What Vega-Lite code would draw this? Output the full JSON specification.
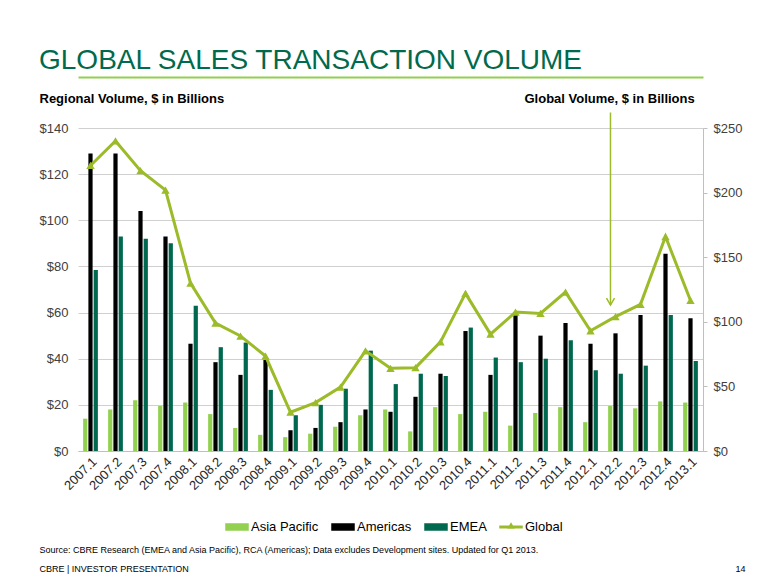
{
  "$schema": "https://vega.github.io/schema/vega-lite/v6.json",
  "width": 625,
  "height": 323,
  "autosize": {"type": "none"},
  "padding": {"left": 78, "top": 128, "right": 77, "bottom": 134},
  "background": "white",
  "config": {
    "font": "Liberation Sans",
    "view": {"stroke": null},
    "axis": {"labelFont": "Liberation Sans", "titleFont": "Liberation Sans"},
    "legend": {"labelFont": "Liberation Sans"}
  },
  "title": {
    "text": "GLOBAL SALES TRANSACTION VOLUME",
    "anchor": "start",
    "frame": "group",
    "orient": "top",
    "dx": -39,
    "offset": 2,
    "fontSize": 28,
    "fontWeight": "normal",
    "color": "#006A4D",
    "font": "Liberation Sans"
  },
  "datasets": {
    "regional": [
      {"quarter": "2007.1", "region": "Asia Pacific", "volume": 14}, {"quarter": "2007.1", "region": "Americas", "volume": 129}, {"quarter": "2007.1", "region": "EMEA", "volume": 78.5},
      {"quarter": "2007.2", "region": "Asia Pacific", "volume": 18}, {"quarter": "2007.2", "region": "Americas", "volume": 129}, {"quarter": "2007.2", "region": "EMEA", "volume": 93},
      {"quarter": "2007.3", "region": "Asia Pacific", "volume": 22}, {"quarter": "2007.3", "region": "Americas", "volume": 104}, {"quarter": "2007.3", "region": "EMEA", "volume": 92},
      {"quarter": "2007.4", "region": "Asia Pacific", "volume": 19.5}, {"quarter": "2007.4", "region": "Americas", "volume": 93}, {"quarter": "2007.4", "region": "EMEA", "volume": 90},
      {"quarter": "2008.1", "region": "Asia Pacific", "volume": 21}, {"quarter": "2008.1", "region": "Americas", "volume": 46.5}, {"quarter": "2008.1", "region": "EMEA", "volume": 63},
      {"quarter": "2008.2", "region": "Asia Pacific", "volume": 16}, {"quarter": "2008.2", "region": "Americas", "volume": 38.5}, {"quarter": "2008.2", "region": "EMEA", "volume": 45},
      {"quarter": "2008.3", "region": "Asia Pacific", "volume": 10}, {"quarter": "2008.3", "region": "Americas", "volume": 33}, {"quarter": "2008.3", "region": "EMEA", "volume": 47},
      {"quarter": "2008.4", "region": "Asia Pacific", "volume": 7}, {"quarter": "2008.4", "region": "Americas", "volume": 39.5}, {"quarter": "2008.4", "region": "EMEA", "volume": 26.5},
      {"quarter": "2009.1", "region": "Asia Pacific", "volume": 6}, {"quarter": "2009.1", "region": "Americas", "volume": 9}, {"quarter": "2009.1", "region": "EMEA", "volume": 15.5},
      {"quarter": "2009.2", "region": "Asia Pacific", "volume": 7.5}, {"quarter": "2009.2", "region": "Americas", "volume": 10}, {"quarter": "2009.2", "region": "EMEA", "volume": 20},
      {"quarter": "2009.3", "region": "Asia Pacific", "volume": 10.5}, {"quarter": "2009.3", "region": "Americas", "volume": 12.5}, {"quarter": "2009.3", "region": "EMEA", "volume": 27},
      {"quarter": "2009.4", "region": "Asia Pacific", "volume": 15.5}, {"quarter": "2009.4", "region": "Americas", "volume": 18}, {"quarter": "2009.4", "region": "EMEA", "volume": 43.5},
      {"quarter": "2010.1", "region": "Asia Pacific", "volume": 18}, {"quarter": "2010.1", "region": "Americas", "volume": 17}, {"quarter": "2010.1", "region": "EMEA", "volume": 29},
      {"quarter": "2010.2", "region": "Asia Pacific", "volume": 8.5}, {"quarter": "2010.2", "region": "Americas", "volume": 23.5}, {"quarter": "2010.2", "region": "EMEA", "volume": 33.5},
      {"quarter": "2010.3", "region": "Asia Pacific", "volume": 19}, {"quarter": "2010.3", "region": "Americas", "volume": 33.5}, {"quarter": "2010.3", "region": "EMEA", "volume": 32.5},
      {"quarter": "2010.4", "region": "Asia Pacific", "volume": 16}, {"quarter": "2010.4", "region": "Americas", "volume": 52}, {"quarter": "2010.4", "region": "EMEA", "volume": 53.5},
      {"quarter": "2011.1", "region": "Asia Pacific", "volume": 17}, {"quarter": "2011.1", "region": "Americas", "volume": 33}, {"quarter": "2011.1", "region": "EMEA", "volume": 40.5},
      {"quarter": "2011.2", "region": "Asia Pacific", "volume": 11}, {"quarter": "2011.2", "region": "Americas", "volume": 59}, {"quarter": "2011.2", "region": "EMEA", "volume": 38.5},
      {"quarter": "2011.3", "region": "Asia Pacific", "volume": 16.5}, {"quarter": "2011.3", "region": "Americas", "volume": 50}, {"quarter": "2011.3", "region": "EMEA", "volume": 40},
      {"quarter": "2011.4", "region": "Asia Pacific", "volume": 19}, {"quarter": "2011.4", "region": "Americas", "volume": 55.5}, {"quarter": "2011.4", "region": "EMEA", "volume": 48},
      {"quarter": "2012.1", "region": "Asia Pacific", "volume": 12.5}, {"quarter": "2012.1", "region": "Americas", "volume": 46.5}, {"quarter": "2012.1", "region": "EMEA", "volume": 35},
      {"quarter": "2012.2", "region": "Asia Pacific", "volume": 19.5}, {"quarter": "2012.2", "region": "Americas", "volume": 51}, {"quarter": "2012.2", "region": "EMEA", "volume": 33.5},
      {"quarter": "2012.3", "region": "Asia Pacific", "volume": 18.5}, {"quarter": "2012.3", "region": "Americas", "volume": 59}, {"quarter": "2012.3", "region": "EMEA", "volume": 37},
      {"quarter": "2012.4", "region": "Asia Pacific", "volume": 21.5}, {"quarter": "2012.4", "region": "Americas", "volume": 85.5}, {"quarter": "2012.4", "region": "EMEA", "volume": 59},
      {"quarter": "2013.1", "region": "Asia Pacific", "volume": 21}, {"quarter": "2013.1", "region": "Americas", "volume": 57.5}, {"quarter": "2013.1", "region": "EMEA", "volume": 39}
    ],
    "global": [
      {"quarter": "2007.1", "global": 221}, {"quarter": "2007.2", "global": 240}, {"quarter": "2007.3", "global": 217}, {"quarter": "2007.4", "global": 202},
      {"quarter": "2008.1", "global": 130}, {"quarter": "2008.2", "global": 99}, {"quarter": "2008.3", "global": 89}, {"quarter": "2008.4", "global": 73.5},
      {"quarter": "2009.1", "global": 30}, {"quarter": "2009.2", "global": 37.5}, {"quarter": "2009.3", "global": 49.5}, {"quarter": "2009.4", "global": 77.5},
      {"quarter": "2010.1", "global": 64}, {"quarter": "2010.2", "global": 64.5}, {"quarter": "2010.3", "global": 84.5}, {"quarter": "2010.4", "global": 122},
      {"quarter": "2011.1", "global": 90.5}, {"quarter": "2011.2", "global": 107.5}, {"quarter": "2011.3", "global": 106.5}, {"quarter": "2011.4", "global": 123},
      {"quarter": "2012.1", "global": 93}, {"quarter": "2012.2", "global": 104}, {"quarter": "2012.3", "global": 113.5}, {"quarter": "2012.4", "global": 166},
      {"quarter": "2013.1", "global": 116.5}
    ]
  },
  "layer": [
    {
      "data": {"name": "regional"},
      "mark": {"type": "bar"},
      "encoding": {
        "x": {
          "field": "quarter", "type": "nominal",
          "scale": {
            "domain": ["2007.1","2007.2","2007.3","2007.4","2008.1","2008.2","2008.3","2008.4","2009.1","2009.2","2009.3","2009.4","2010.1","2010.2","2010.3","2010.4","2011.1","2011.2","2011.3","2011.4","2012.1","2012.2","2012.3","2012.4","2013.1"],
            "paddingInner": 0.41, "paddingOuter": 0.205
          },
          "axis": {
            "labelAngle": -45, "labelFontSize": 13, "labelColor": "#262626", "labelPadding": 4,
            "domain": true, "domainColor": "#BFBFBF", "ticks": false, "grid": false,
            "title": ["Source: CBRE Research (EMEA and Asia Pacific), RCA (Americas); Data excludes Development sites. Updated for Q1 2013.", "CBRE | INVESTOR PRESENTATION"],
            "titleAlign": "left", "titleBaseline": "alphabetic", "titleX": -39, "titleY": 101,
            "titleFontSize": 9, "titleFontWeight": "normal", "titleColor": "#000000", "titleLineHeight": 19, "titleAngle": 0
          }
        },
        "xOffset": {"field": "region", "type": "nominal", "sort": ["Asia Pacific", "Americas", "EMEA"], "scale": {"paddingInner": 0.2}},
        "y": {
          "field": "volume", "type": "quantitative",
          "scale": {"domain": [0, 140]},
          "axis": {
            "values": [0, 20, 40, 60, 80, 100, 120, 140], "format": "$.0f",
            "grid": true, "gridColor": "#D0D0D0", "domain": false, "ticks": false,
            "labelPadding": 10, "labelFontSize": 13, "labelColor": "#404040",
            "title": "Regional Volume, $ in Billions", "titleAngle": 0, "titleAlign": "left", "titleBaseline": "middle",
            "titleX": -39, "titleY": -30, "titleFontSize": 13, "titleFontWeight": "bold", "titleColor": "#000000"
          }
        },
        "color": {
          "field": "region", "type": "nominal",
          "scale": {"domain": ["Asia Pacific", "Americas", "EMEA", "Global"], "range": ["#92D050", "#000000", "#00684F", "#9BBB29"]},
          "legend": {
            "orient": "none", "legendX": 147, "legendY": 387, "direction": "horizontal", "columns": 4,
            "title": null, "labelFontSize": 13, "labelColor": "#000000", "symbolSize": 484,
            "labelOffset": 2, "columnPadding": 10,
            "encode": {
              "symbols": {
                "update": {
                  "shape": {"signal": "datum.value === 'Global' ? 'M-1,-0.07H1V0.07H-1Z M0,-0.3L0.22,0.1L-0.22,0.1Z' : 'M-1,-0.27H1V0.27H-1Z'"},
                  "fill": {"scale": "color", "field": "value"},
                  "stroke": {"value": "transparent"},
                  "opacity": {"value": 1}
                }
              }
            }
          }
        }
      }
    },
    {
      "layer": [
        {
          "data": {"name": "global"},
          "mark": {"type": "line", "strokeWidth": 3, "point": {"shape": "triangle-up", "size": 70, "filled": true}},
          "encoding": {
            "x": {
              "field": "quarter", "type": "nominal",
              "axis": {
                "orient": "top", "offset": 51, "domain": true, "domainColor": "#92D050", "domainWidth": 2,
                "labels": false, "ticks": false, "grid": false,
                "title": "14", "titleX": 657, "titleY": 494, "titleAlign": "left", "titleBaseline": "alphabetic",
                "titleFontSize": 9, "titleFontWeight": "normal", "titleColor": "#000000", "titleAngle": 0
              }
            },
            "y": {
              "field": "global", "type": "quantitative",
              "scale": {"domain": [0, 250]},
              "axis": {
                "orient": "right", "values": [0, 50, 100, 150, 200, 250], "format": "$.0f",
                "grid": false, "domain": true, "domainColor": "#BFBFBF", "ticks": true, "tickColor": "#BFBFBF", "tickSize": 4,
                "labelPadding": 6, "labelFontSize": 13, "labelColor": "#404040",
                "title": "Global Volume, $ in Billions", "titleAngle": 0, "titleAlign": "left", "titleBaseline": "middle",
                "titleX": -179, "titleY": -30, "titleFontSize": 13, "titleFontWeight": "bold", "titleColor": "#000000"
              }
            },
            "color": {"datum": "Global"}
          }
        },
        {
          "data": {"values": [{}]},
          "mark": {"type": "rule", "color": "#9BBB29", "strokeWidth": 1.5},
          "encoding": {
            "x": {"datum": "2012.2", "bandPosition": 0.16},
            "y": {"datum": 262, "scale": {"domain": [0, 250]}},
            "y2": {"datum": 113}
          }
        },
        {
          "data": {"values": [{}]},
          "mark": {"type": "point", "shape": "M-1,-1.75L0,0L1,-1.75", "size": 64, "filled": false, "color": "#9BBB29", "strokeWidth": 1.5, "opacity": 1},
          "encoding": {
            "x": {"datum": "2012.2", "bandPosition": 0.16},
            "y": {"datum": 113, "scale": {"domain": [0, 250]}}
          }
        }
      ]
    }
  ],
  "resolve": {"scale": {"y": "independent"}, "axis": {"x": "independent"}}
}
